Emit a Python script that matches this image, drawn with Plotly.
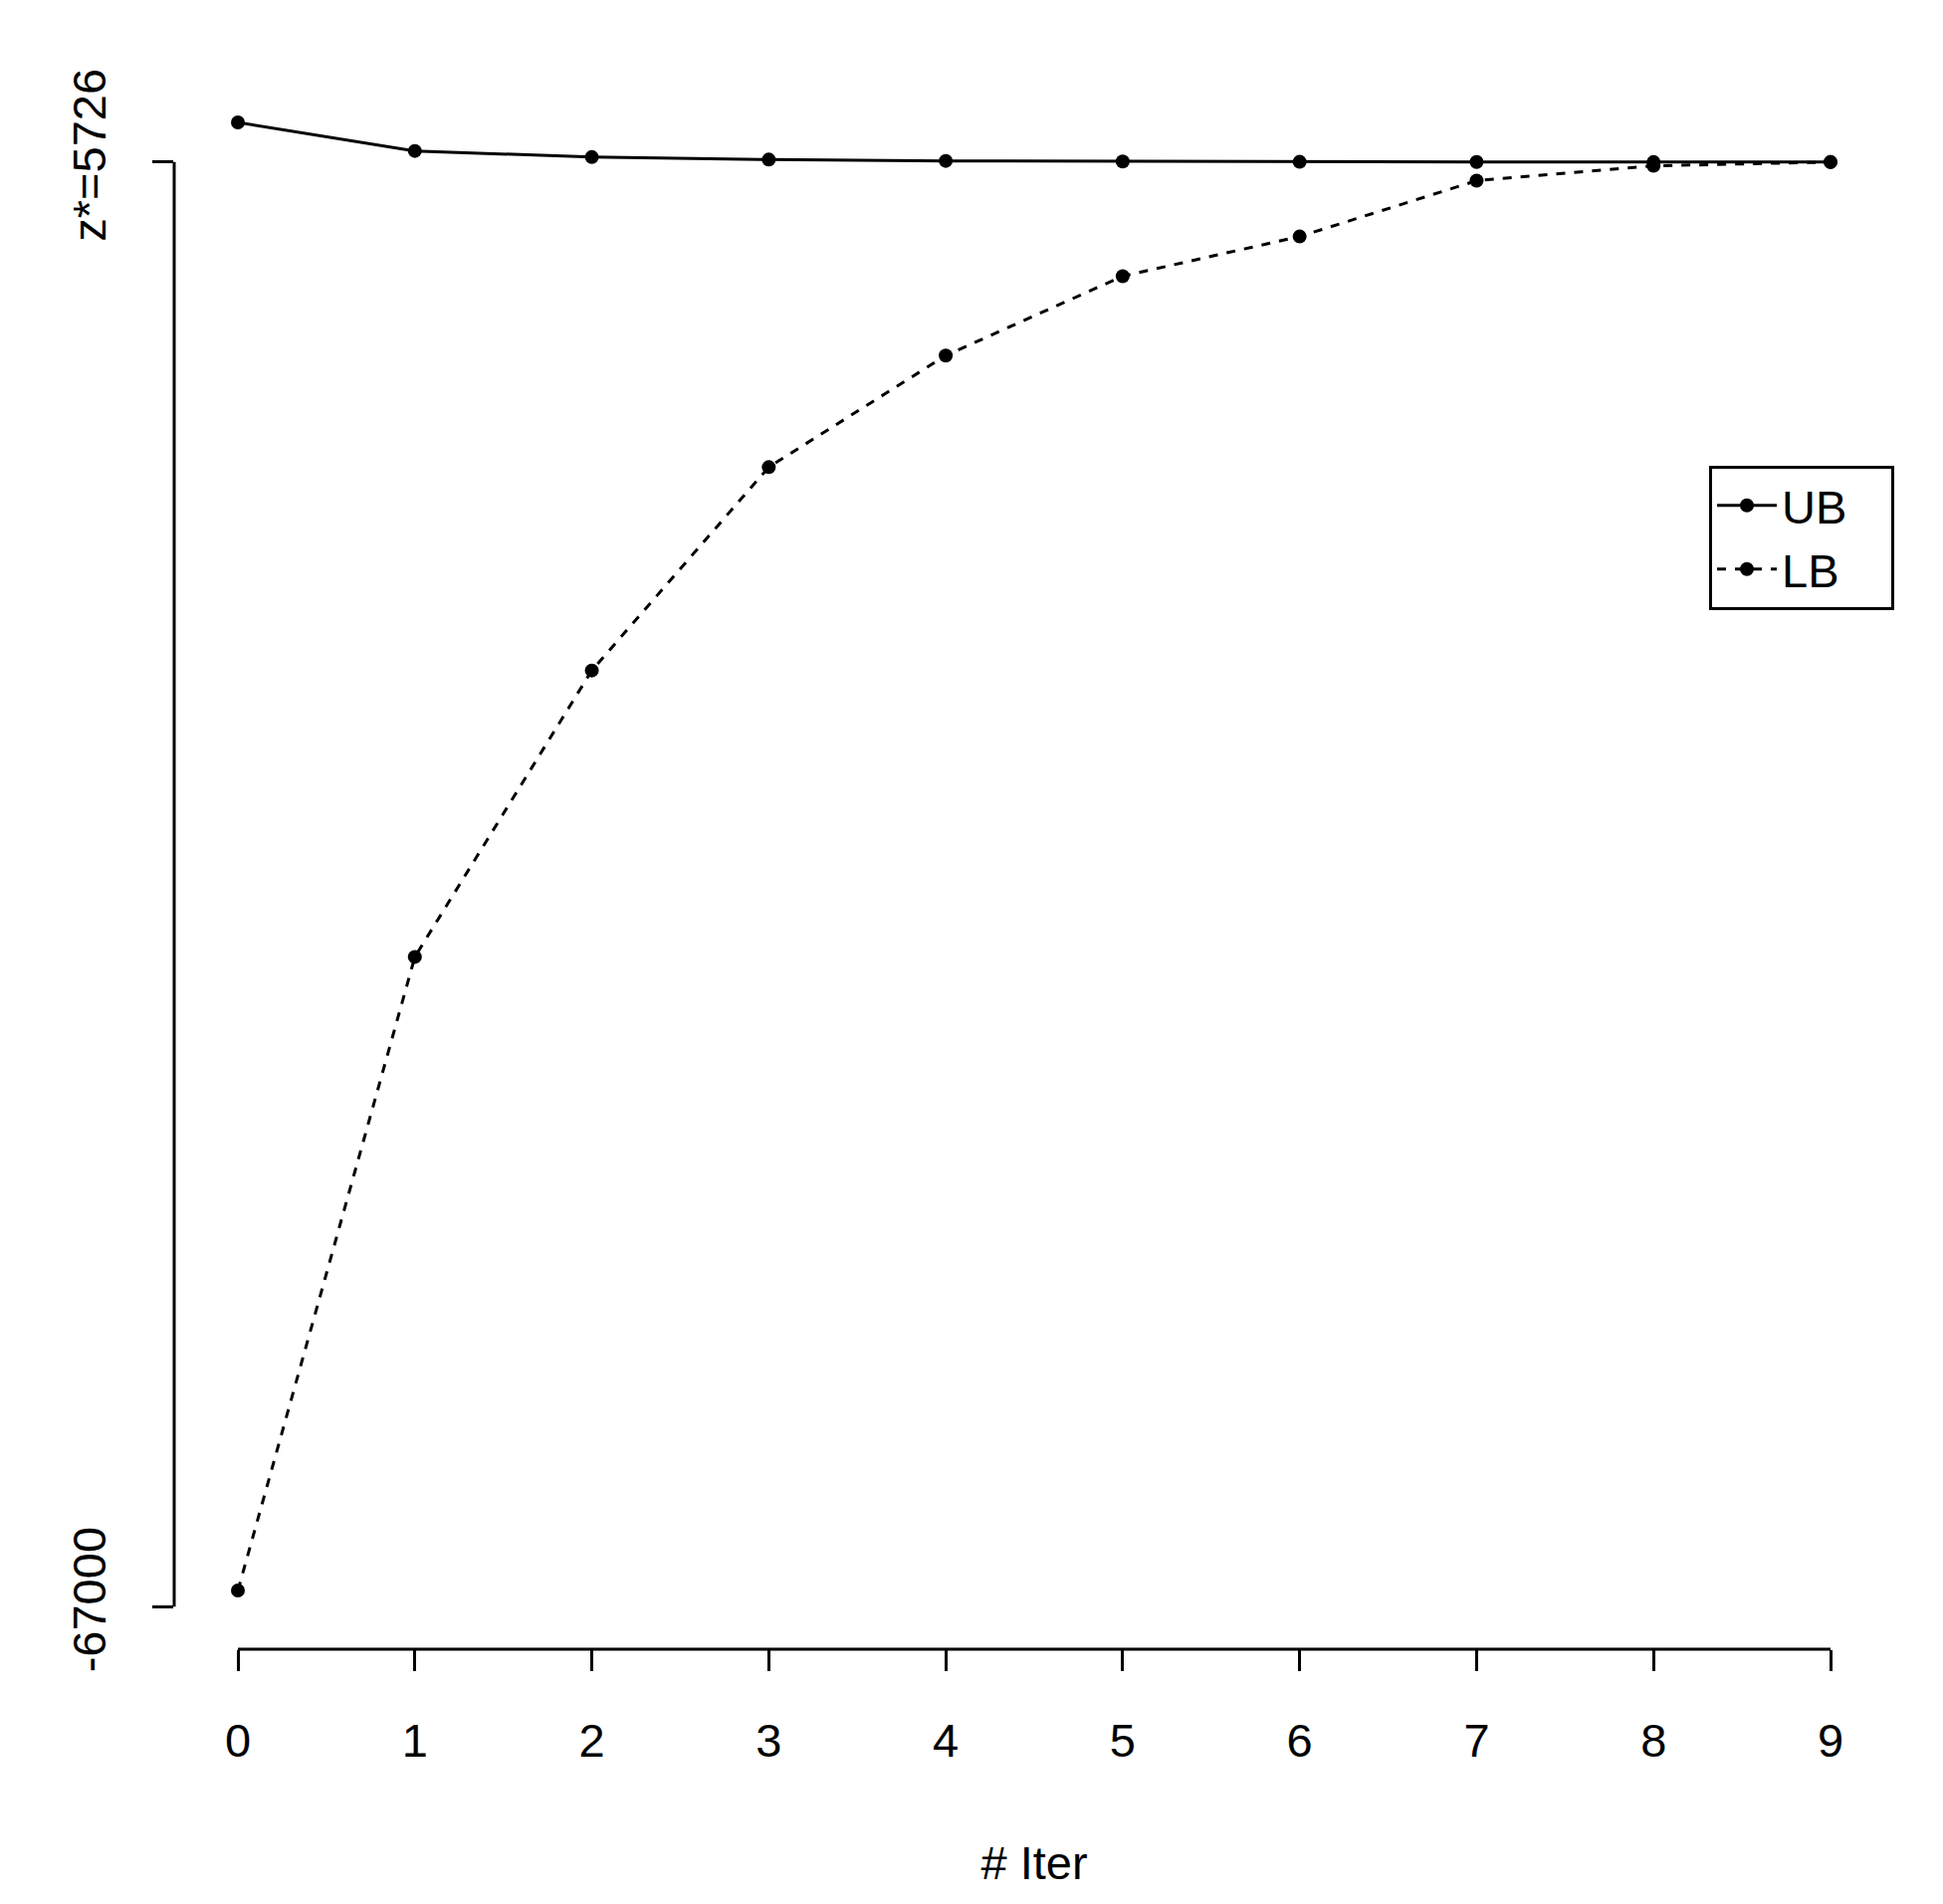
import plotly.graph_objects as go

# values
iters = [0, 1, 2, 3, 4, 5, 6, 7, 8, 9]
ub = [7724, 6288, 5976, 5851, 5788, 5757, 5740, 5730, 5727, 5726]
lb = [-66189, -34289, -19869, -9631, -4012, -17, 1980, 4790, 5539, 5726]
ytick_vals = [5726, -67000]
ytick_text = ["z*=5726", "-67000"]

font = dict(family="Liberation Sans, Arial", size=47, color="black")

fig = go.Figure()
fig.add_trace(go.Scatter(x=iters, y=ub, name="UB   ", mode="lines+markers",
                         line=dict(color="black", width=3),
                         marker=dict(color="black", size=14)))
fig.add_trace(go.Scatter(x=iters, y=lb, name="LB   ", mode="lines+markers",
                         line=dict(color="black", width=3, dash="dash"),
                         marker=dict(color="black", size=14)))

# R-style detached axis lines spanning only the tick range
fig.add_shape(type="line", xref="x", yref="paper", x0=iters[0], x1=iters[-1],
              y0=0, y1=0, line=dict(color="black", width=3))
fig.add_shape(type="line", xref="paper", yref="y", x0=0, x1=0,
              y0=ytick_vals[1], y1=ytick_vals[0], line=dict(color="black", width=3))

fig.update_xaxes(range=[-0.36, 9.36], tickvals=iters, ticks="outside", ticklen=21,
                 tickwidth=3, tickcolor="black", showline=False, showgrid=False,
                 zeroline=False, tickfont=font, ticklabelstandoff=30,
                 title=dict(text="# Iter", font=font, standoff=80))
fig.update_yaxes(range=[-69145, 10680], tickvals=ytick_vals, ticktext=ytick_text,
                 tickangle=-90, ticks="outside", ticklen=21, tickwidth=3, tickcolor="black",
                 showline=False, showgrid=False, zeroline=False, tickfont=font,
                 ticklabelstandoff=28)

fig.update_layout(
    width=1952, height=1913,
    margin=dict(l=167, r=57, t=56, b=264),
    plot_bgcolor="white", paper_bgcolor="white",
    font=font,
    legend=dict(x=1, xanchor="right", y=0.7466, yanchor="top",
                bordercolor="black", borderwidth=3, bgcolor="white",
                font=font, itemwidth=60),
)

fig.write_html("out.html")
